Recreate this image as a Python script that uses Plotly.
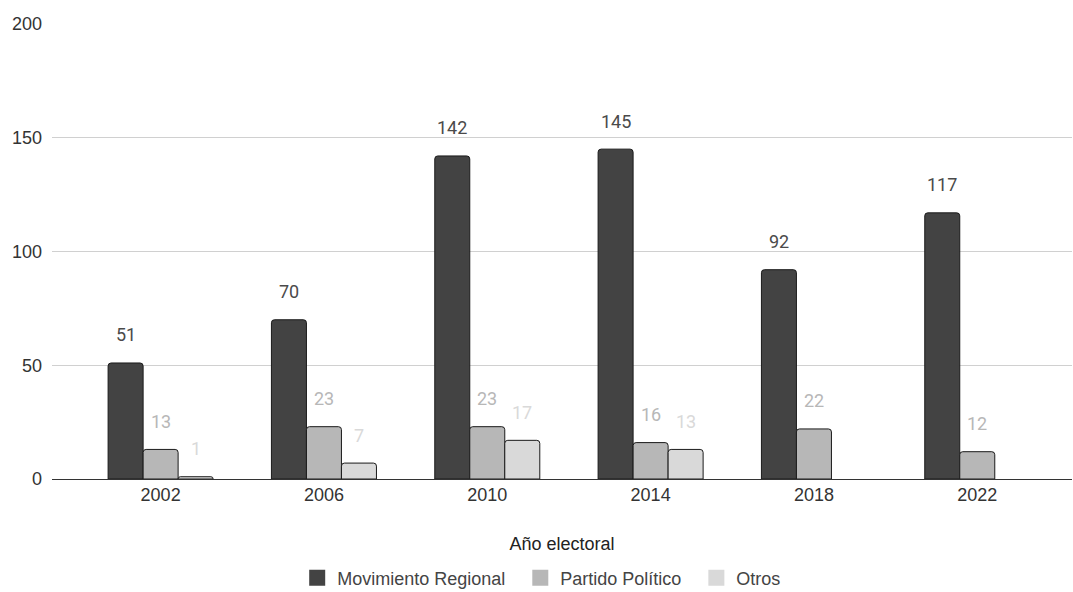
import plotly.graph_objects as go

years = ["2002", "2006", "2010", "2014", "2018", "2022"]
movimiento = [51, 70, 142, 145, 92, 117]
partido = [13, 23, 23, 16, 22, 12]
otros = [1, 7, 17, 13, None, None]

series = [
    ("Movimiento Regional", movimiento, "#434343", "#4a4a4a"),
    ("Partido Político", partido, "#b7b7b7", "#b7b7b7"),
    ("Otros", otros, "#d9d9d9", "#d9d9d9"),
]

fig = go.Figure()
for name, vals, col, lcol in series:
    fig.add_trace(go.Bar(
        x=years, y=vals, name=name, showlegend=False,
        marker=dict(color=col, line=dict(color="#1a1a1a", width=1), cornerradius=3),
        hoverinfo="skip",
    ))

# legend entries (plain squares)
for name, vals, col, lcol in series:
    fig.add_trace(go.Scatter(
        x=[None], y=[None], mode="markers", name=name + "\u00a0\u00a0",
        marker=dict(symbol="square", size=18, color=col, line=dict(width=0)),
        hoverinfo="skip",
    ))

# data labels
offsets = [-35, 0, 35]
for (name, vals, col, lcol), dx in zip(series, offsets):
    for i, v in enumerate(vals):
        if v is None:
            continue
        fig.add_annotation(
            x=i, y=v, text=str(v), showarrow=False, xshift=dx, yshift=28,
            font=dict(family="Roboto", size=18, color=lcol),
        )

fig.update_layout(
    width=1073, height=592,
    margin=dict(l=52, r=1, t=24, b=113, autoexpand=False),
    plot_bgcolor="white", paper_bgcolor="white",
    barmode="group", bargap=0.357, bargroupgap=0.0,
    font=dict(family="Liberation Sans, Arial", size=18, color="#444444"),
    showlegend=True,
    legend=dict(orientation="h", x=0.485, xanchor="center", y=-0.2175, yanchor="middle",
                font=dict(size=18, color="#444444"), traceorder="normal"),
)
fig.update_xaxes(
    type="category", range=[-0.665, 5.58], showgrid=False, automargin=False,
    showline=False, ticks="", tickfont=dict(size=18, color="#333333"),
    ticklabelstandoff=3,
    title=dict(text="Año electoral", font=dict(size=18, color="#222222"), standoff=33),
)
fig.update_yaxes(
    range=[0, 200], tickvals=[0, 50, 100, 150, 200], showgrid=True, gridcolor="#d0d0d0",
    zeroline=True, zerolinecolor="#333333", zerolinewidth=1, ticks="", automargin=False,
    tickfont=dict(size=18, color="#333333"), ticklabelstandoff=9,
)
fig.write_html("out.html")
